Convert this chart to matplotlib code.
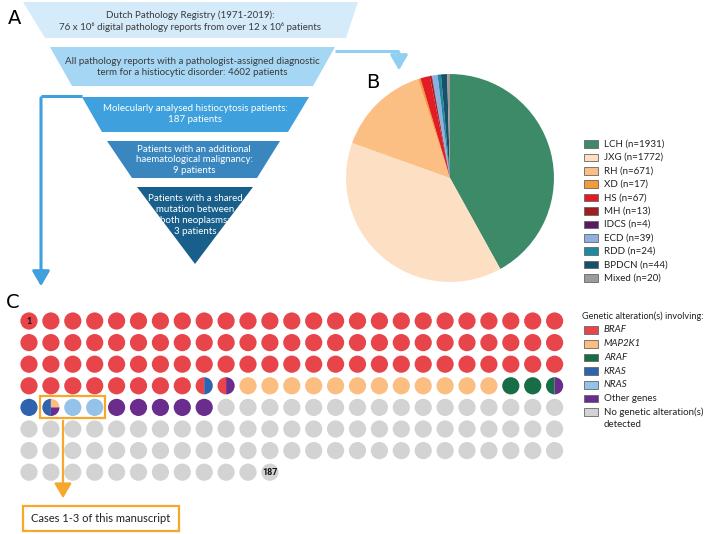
import matplotlib
matplotlib.use("Agg")
import matplotlib.pyplot as plt
from matplotlib.patches import Polygon, Circle, Wedge, Rectangle, FancyArrowPatch

plt.rcParams['font.family'] = ['Lato', 'DejaVu Sans']

# ---- data ----
funnel_texts = [
    "Dutch Pathology Registry (1971-2019):\n76 x 10\u2076 digital pathology reports from over 12 x 10\u2076 patients",
    "All pathology reports with a pathologist-assigned diagnostic\nterm for a histiocytic disorder: 4602 patients",
    "Molecularly analysed histiocytosis patients:\n187 patients",
    "Patients with an additional\nhaematological malignancy:\n9 patients",
    "Patients with a shared\nmutation between\nboth neoplasms:\n3 patients",
]

pie_labels = ["LCH", "JXG", "RH", "XD", "HS", "MH", "IDCS", "ECD", "RDD", "BPDCN", "Mixed"]
pie_counts = [1931, 1772, 671, 17, 67, 13, 4, 39, 24, 44, 20]
pie_colors = ["#3d8a68", "#fde0c3", "#fbbf84", "#f39b3a", "#e31b23", "#a11d21",
              "#5b1c5f", "#8fb0de", "#1d8aa0", "#17506a", "#9c9c9c"]

gene_labels = ["BRAF", "MAP2K1", "ARAF", "KRAS", "NRAS", "Other genes",
               "No genetic alteration(s)\ndetected"]
gene_keys = ["BRAF", "MAP2K1", "ARAF", "KRAS", "NRAS", "Other", "None"]
gene_colors = ["#e8454b", "#fbbd80", "#176d45", "#2f63ad", "#95c2e9", "#6a2c8d", "#d3d3d3"]

# patients in order (groups split by "|" carry more than one alteration)
dot_groups = ["BRAF", "BRAF|KRAS", "BRAF|Other", "MAP2K1", "ARAF", "ARAF|Other",
              "KRAS", "KRAS|MAP2K1|Other", "NRAS", "Other", "None"]
dot_counts = [83, 1, 1, 12, 2, 1, 1, 1, 2, 5, 78]

gcol = dict(zip(gene_keys, gene_colors))

fig = plt.figure(figsize=(7.09, 5.34), dpi=100)
ax = fig.add_axes([0, 0, 1, 1])
ax.set_xlim(0, 709)
ax.set_ylim(534, 0)
ax.axis("off")

# ---- A: funnel ----
bands = [
    ([(23, 2), (358, 2), (346, 38), (45, 38)], "#d5ebfa"),
    ([(50, 47), (335, 47), (313, 86), (72, 86)], "#a5d6f4"),
    ([(82, 97), (309, 97), (288, 132), (102, 132)], "#3ea0dc"),
    ([(107, 141), (280, 141), (257, 178), (132, 178)], "#3a87bf"),
    ([(137, 187), (253, 187), (195, 264)], "#195f8b"),
]
text_pos = [(190, 21), (192, 67), (195, 114), (194, 160), (195, 215)]
for i, (pts, col) in enumerate(bands):
    ax.add_patch(Polygon(pts, closed=True, fc=col, ec="none"))
    ax.text(text_pos[i][0], text_pos[i][1], funnel_texts[i], ha="center", va="center",
            fontsize=7, color="#3a3a3a" if i < 2 else "white", linespacing=1.25)

# arrow to pie
ax.plot([335, 399], [51, 51], color="#8fcff2", lw=2.2, solid_capstyle="butt")
ax.add_patch(FancyArrowPatch((399, 50), (399, 73), arrowstyle="-|>,head_length=6,head_width=3.5",
                             color="#8fcff2", lw=2.2, mutation_scale=1.5))
# arrow to dots
ax.plot([82, 41], [96, 96], color="#3ea0dc", lw=2.2, solid_capstyle="butt")
ax.add_patch(FancyArrowPatch((41, 95), (41, 289), arrowstyle="-|>,head_length=6,head_width=3.5",
                             color="#3ea0dc", lw=2.2, mutation_scale=1.5))

ax.text(8, 18, "A", fontsize=14, va="center", ha="left", family="DejaVu Sans")
ax.text(366, 82, "B", fontsize=14, va="center", ha="left", family="DejaVu Sans")
ax.text(6, 302, "C", fontsize=14, va="center", ha="left", family="DejaVu Sans")

# ---- B: pie ----
pax = fig.add_axes([345 / 709, 1 - 283 / 534, 210 / 709, 210 / 534])
pax.pie(pie_counts, colors=pie_colors, startangle=90, counterclock=False,
        wedgeprops=dict(linewidth=0))
pax.set_aspect("equal")
pax.set_xlim(-1.01, 1.01)
pax.set_ylim(-1.01, 1.01)

for i, (lab, n) in enumerate(zip(pie_labels, pie_counts)):
    y = 144 + i * 13.4
    ax.add_patch(Rectangle((584, y - 3.8), 14, 7.6, fc=pie_colors[i], ec="#666666", lw=0.6))
    ax.text(604, y, f"{lab} (n={n})", fontsize=7, va="center", ha="left", color="#222222")

# ---- C: dot grid ----
ncol, x0, y0, dx, dy, r = 25, 29, 321, 21.9, 21.6, 8.6
idx = 0
for grp, cnt in zip(dot_groups, dot_counts):
    for _ in range(cnt):
        cx = x0 + (idx % ncol) * dx
        cy = y0 + (idx // ncol) * dy
        parts = grp.split("|")
        if len(parts) == 1:
            ax.add_patch(Circle((cx, cy), r, fc=gcol[parts[0]], ec="none"))
        elif len(parts) == 2:
            # left half / right half (y axis inverted)
            ax.add_patch(Wedge((cx, cy), r, 90, 270, fc=gcol[parts[0]], ec="none"))
            ax.add_patch(Wedge((cx, cy), r, -90, 90, fc=gcol[parts[1]], ec="none"))
        else:
            ax.add_patch(Wedge((cx, cy), r, 90, 270, fc=gcol[parts[0]], ec="none"))
            ax.add_patch(Wedge((cx, cy), r, -90, 0, fc=gcol[parts[1]], ec="none"))
            ax.add_patch(Wedge((cx, cy), r, 0, 90, fc=gcol[parts[2]], ec="none"))
        idx += 1

ax.text(x0, y0 + 0.5, "1", fontsize=6.5, ha="center", va="center", color="#111111",
        fontweight="bold")
last = sum(dot_counts) - 1
ax.text(x0 + (last % ncol) * dx, y0 + (last // ncol) * dy + 0.5, str(last + 1), fontsize=6.5,
        ha="center", va="center", color="#111111", fontweight="bold", family="Roboto")

# highlight box + arrow + caption
orange = "#f6a72c"
ax.add_patch(Rectangle((40, 396), 65, 22, fc="none", ec=orange, lw=1.6))
ax.add_patch(FancyArrowPatch((63, 418), (63, 501), arrowstyle="-|>,head_length=6,head_width=3.5",
                             color=orange, lw=1.6, mutation_scale=1.5))
ax.add_patch(Rectangle((23, 506), 156, 25, fc="white", ec=orange, lw=1.6))
ax.text(101, 518.5, "Cases 1-3 of this manuscript", fontsize=8, ha="center", va="center",
        color="#222222")

ax.text(582, 316, "Genetic alteration(s) involving:", fontsize=6.6, va="center", ha="left",
        color="#222222")
for i, (lab, col) in enumerate(zip(gene_labels, gene_colors)):
    y = 330 + i * 13.7
    ax.add_patch(Rectangle((584, y - 3.8), 14, 7.6, fc=col, ec="#666666", lw=0.6))
    style = "italic" if i < 5 else "normal"
    ax.text(604, y - 5 if i == 6 else y, lab, fontsize=7, va="top" if i == 6 else "center",
            ha="left", color="#222222", style=style, linespacing=1.4)

fig.savefig("out.png", dpi=100)
